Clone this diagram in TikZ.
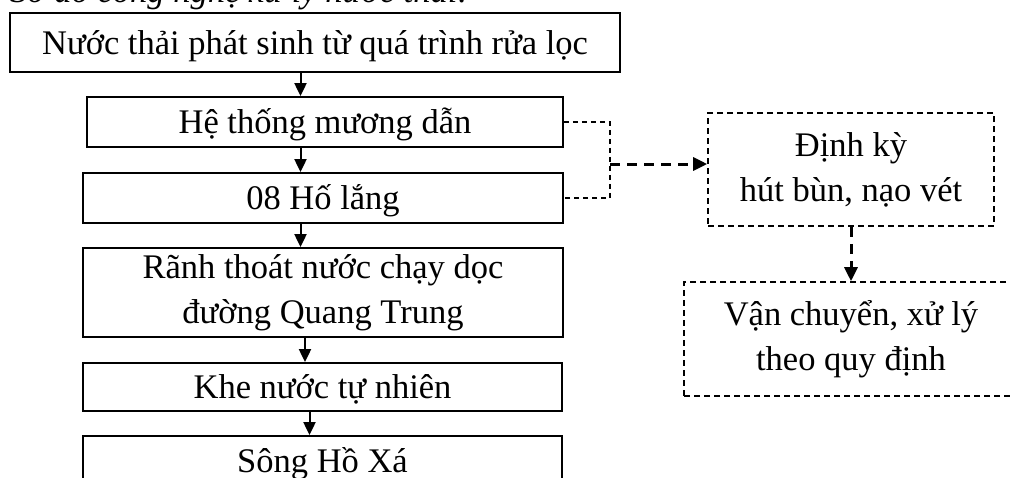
\documentclass[tikz,border=0pt]{standalone}
\usepackage{fontspec}
\setmainfont{Liberation Serif}
\usetikzlibrary{arrows.meta}
\begin{document}
\begin{tikzpicture}[x=1pt,y=-1pt,
  txt/.style={font=\fontsize{34.5}{45}\selectfont},
  box/.style={txt,draw,line width=1.8pt,inner sep=0pt,align=center},
  one/.style={text height=23pt,text depth=0pt},
  dbox/.style={box,line width=1.6pt,dash pattern=on 6pt off 4pt},
  arr/.style={line width=2pt,-{Triangle[length=13pt,width=12pt]}},
  brk/.style={line width=1.6pt,dash pattern=on 5pt off 4pt},
  darr/.style={line width=3pt,dash pattern=on 10pt off 7pt,-{Triangle[length=14pt,width=13pt]}}]
\clip (0,0) rectangle (1010,477);
\node[txt,anchor=base west,inner sep=0pt,font=\fontsize{34.5}{45}\selectfont\itshape] (cap) at (10,2.5) {Sơ đồ công nghệ xử lý nước thải:};
\node[box,one,minimum width=610pt,minimum height=59pt] (b1) at (315,42.5) {Nước thải phát sinh từ quá trình rửa lọc};
\node[box,one,minimum width=476pt,minimum height=50pt] (b2) at (325,122) {Hệ thống mương dẫn};
\node[box,one,minimum width=480pt,minimum height=50pt] (b3) at (323,198) {08 Hố lắng};
\node[box,minimum width=480pt,minimum height=89pt] (b4) at (323,292.5) {Rãnh thoát nước chạy dọc\\đường Quang Trung};
\node[box,one,minimum width=479pt,minimum height=48pt] (b5) at (322.5,387) {Khe nước tự nhiên};
\node[box,one,minimum width=479pt,minimum height=50pt] (b6) at (322.5,461) {Sông Hồ Xá};
\node[dbox,minimum width=286pt,minimum height=113pt] (r1) at (851,169.5) {Định kỳ\\hút bùn, nạo vét};
\node[dbox,minimum width=334pt,minimum height=114pt] (r2) at (851,339) {Vận chuyển, xử lý\\theo quy định};
\coordinate (ax1) at (300.5,0);
\coordinate (ax4) at (305,0);
\coordinate (ax5) at (309.5,0);
\draw[arr] (b1.south -| ax1) -- (b2.north -| ax1);
\draw[arr] (b2.south -| ax1) -- (b3.north -| ax1);
\draw[arr] (b3.south -| ax1) -- (b4.north -| ax1);
\draw[arr] (b4.south -| ax4) -- (b5.north -| ax4);
\draw[arr] (b5.south -| ax5) -- (b6.north -| ax5);
\coordinate (bx) at (610,164);
\draw[brk] (b2.east) -| (bx) |- (b3.east);
\draw[darr] (bx) -- (bx -| r1.west);
\draw[darr] (r1.south) -- (r2.north);
\end{tikzpicture}
\end{document}
